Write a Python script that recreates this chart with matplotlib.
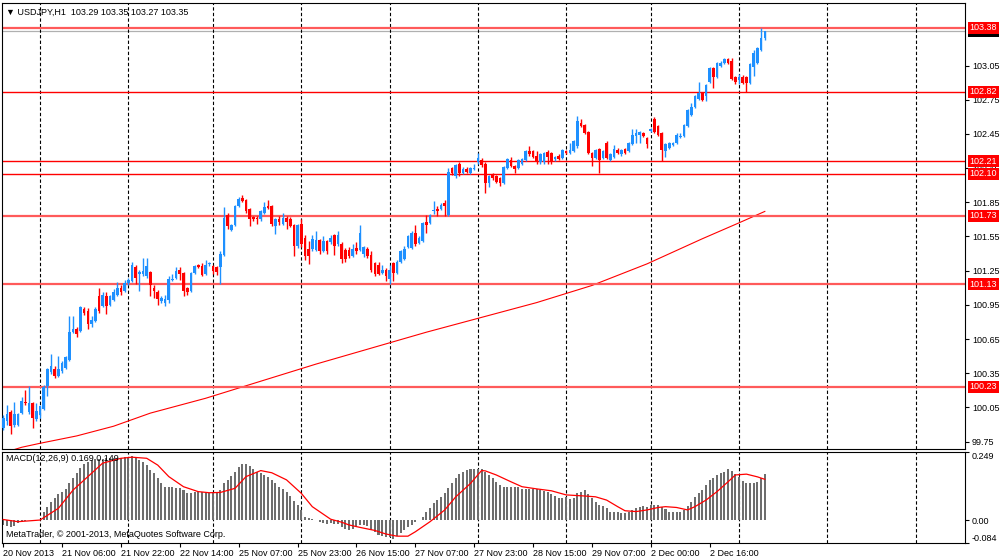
import numpy as np
import matplotlib
matplotlib.use("Agg")
import matplotlib.pyplot as plt

plt.rcParams['font.family'] = ['Liberation Sans', 'DejaVu Sans']

# USDJPY H1 bars, 20 Nov 2013 14:00 -> 3 Dec 2013 07:00
opens = [99.87, 99.93, 100.01, 99.90, 99.90, 100.00, 100.10, 100.01, 100.09, 99.95,
         99.98, 100.04, 100.24, 100.36, 100.39, 100.33, 100.37, 100.40, 100.47, 100.71,
         100.74, 100.72, 100.91, 100.90, 100.78, 100.81, 101.03, 100.94, 101.03, 100.95,
         100.99, 101.04, 101.10, 101.07, 101.14, 101.16, 101.28, 101.22, 101.22, 101.20,
         101.24, 101.10, 101.06, 100.98, 100.97, 100.99, 101.17, 101.19, 101.26, 101.23,
         101.10, 101.07, 101.23, 101.30, 101.29, 101.22, 101.31, 101.29, 101.28, 101.28,
         101.39, 101.74, 101.61, 101.65, 101.82, 101.89, 101.87, 101.79, 101.72, 101.71,
         101.70, 101.76, 101.82, 101.82, 101.64, 101.70, 101.66, 101.71, 101.70, 101.65,
         101.47, 101.66, 101.54, 101.44, 101.44, 101.43, 101.52, 101.42, 101.51, 101.50,
         101.56, 101.48, 101.48, 101.43, 101.43, 101.38, 101.45, 101.43, 101.40, 101.44,
         101.39, 101.32, 101.30, 101.23, 101.26, 101.18, 101.32, 101.23, 101.33, 101.35,
         101.46, 101.45, 101.58, 101.49, 101.51, 101.68, 101.67, 101.77, 101.79, 101.79,
         101.84, 101.74, 102.15, 102.08, 102.19, 102.11, 102.14, 102.11, 102.14, 102.20,
         102.22, 102.19, 102.02, 102.09, 102.08, 102.06, 102.02, 102.15, 102.22, 102.17,
         102.15, 102.19, 102.22, 102.30, 102.30, 102.26, 102.20, 102.20, 102.29, 102.28,
         102.23, 102.26, 102.24, 102.30, 102.28, 102.30, 102.34, 102.55, 102.53, 102.47,
         102.28, 102.24, 102.32, 102.24, 102.37, 102.22, 102.25, 102.31, 102.27, 102.32,
         102.30, 102.36, 102.43, 102.44, 102.46, 102.41, 102.48, 102.58, 102.52, 102.46,
         102.30, 102.33, 102.35, 102.37, 102.42, 102.43, 102.52, 102.62, 102.69, 102.76,
         102.81, 102.78, 102.91, 103.03, 102.95, 103.05, 103.07, 103.11, 103.09, 102.95,
         102.92, 102.95, 102.95, 102.90, 103.04, 103.07, 103.19, 103.29]
highs = [99.98, 100.07, 100.03, 100.10, 100.00, 100.14, 100.20, 100.24, 100.10, 100.09,
         100.07, 100.25, 100.40, 100.52, 100.41, 100.50, 100.46, 100.50, 100.85, 100.85,
         100.76, 100.94, 100.93, 100.92, 100.85, 100.93, 101.10, 101.06, 101.06, 101.04,
         101.09, 101.15, 101.12, 101.17, 101.19, 101.33, 101.30, 101.26, 101.36, 101.36,
         101.25, 101.12, 101.08, 101.03, 101.04, 101.20, 101.22, 101.28, 101.28, 101.24,
         101.11, 101.24, 101.30, 101.31, 101.32, 101.34, 101.33, 101.30, 101.29, 101.42,
         101.81, 101.76, 101.66, 101.83, 101.90, 101.91, 101.88, 101.80, 101.73, 101.73,
         101.78, 101.85, 101.87, 101.83, 101.71, 101.73, 101.76, 101.73, 101.72, 101.66,
         101.66, 101.70, 101.56, 101.51, 101.56, 101.60, 101.53, 101.55, 101.52, 101.56,
         101.57, 101.60, 101.50, 101.45, 101.46, 101.48, 101.50, 101.65, 101.47, 101.46,
         101.42, 101.33, 101.33, 101.30, 101.27, 101.30, 101.33, 101.34, 101.43, 101.47,
         101.56, 101.60, 101.65, 101.55, 101.68, 101.74, 101.75, 101.86, 101.82, 101.84,
         101.87, 102.15, 102.16, 102.19, 102.20, 102.16, 102.16, 102.16, 102.19, 102.28,
         102.24, 102.20, 102.09, 102.11, 102.09, 102.07, 102.17, 102.24, 102.25, 102.18,
         102.23, 102.24, 102.31, 102.34, 102.31, 102.30, 102.28, 102.29, 102.31, 102.29,
         102.26, 102.27, 102.32, 102.31, 102.37, 102.40, 102.61, 102.58, 102.54, 102.48,
         102.29, 102.32, 102.33, 102.31, 102.39, 102.28, 102.35, 102.33, 102.32, 102.33,
         102.38, 102.49, 102.49, 102.48, 102.47, 102.42, 102.50, 102.60, 102.53, 102.47,
         102.37, 102.38, 102.38, 102.46, 102.46, 102.54, 102.67, 102.72, 102.79, 102.91,
         102.82, 102.89, 103.04, 103.04, 103.08, 103.09, 103.12, 103.12, 103.12, 102.96,
         102.98, 102.97, 102.96, 103.07, 103.19, 103.21, 103.38, 103.35]
lows = [99.85, 99.90, 99.82, 99.88, 99.89, 99.99, 100.07, 99.99, 99.87, 99.93,
        99.96, 100.03, 100.15, 100.34, 100.31, 100.32, 100.35, 100.39, 100.46, 100.70,
        100.67, 100.71, 100.86, 100.74, 100.76, 100.80, 100.88, 100.93, 100.87, 100.94,
        100.98, 101.03, 101.04, 101.06, 101.12, 101.15, 101.13, 101.07, 101.20, 101.19,
        101.03, 101.01, 100.95, 100.97, 100.94, 100.97, 101.16, 101.18, 101.17, 101.03,
        101.04, 101.06, 101.22, 101.27, 101.20, 101.21, 101.29, 101.22, 101.21, 101.13,
        101.38, 101.62, 101.60, 101.64, 101.81, 101.85, 101.76, 101.64, 101.69, 101.66,
        101.69, 101.75, 101.79, 101.64, 101.57, 101.65, 101.65, 101.62, 101.63, 101.38,
        101.45, 101.46, 101.34, 101.31, 101.42, 101.42, 101.40, 101.41, 101.40, 101.48,
        101.39, 101.47, 101.32, 101.33, 101.36, 101.37, 101.40, 101.42, 101.37, 101.36,
        101.24, 101.20, 101.21, 101.22, 101.16, 101.13, 101.16, 101.22, 101.32, 101.34,
        101.45, 101.44, 101.47, 101.48, 101.50, 101.58, 101.66, 101.75, 101.73, 101.78,
        101.73, 101.73, 102.09, 102.06, 102.08, 102.10, 102.11, 102.10, 102.13, 102.19,
        102.16, 101.93, 101.98, 102.05, 102.02, 101.99, 102.01, 102.14, 102.16, 102.11,
        102.14, 102.18, 102.21, 102.26, 102.24, 102.19, 102.19, 102.19, 102.19, 102.19,
        102.21, 102.22, 102.23, 102.27, 102.27, 102.29, 102.33, 102.51, 102.45, 102.27,
        102.17, 102.23, 102.11, 102.23, 102.23, 102.21, 102.24, 102.27, 102.26, 102.27,
        102.29, 102.35, 102.37, 102.37, 102.42, 102.33, 102.47, 102.46, 102.43, 102.21,
        102.25, 102.32, 102.34, 102.36, 102.41, 102.42, 102.51, 102.61, 102.68, 102.75,
        102.74, 102.74, 102.90, 102.85, 102.94, 103.04, 103.06, 103.06, 102.92, 102.89,
        102.89, 102.89, 102.82, 102.89, 102.96, 103.06, 103.18, 103.27]
closes = [99.96, 99.99, 99.89, 99.99, 99.99, 100.11, 100.09, 100.09, 99.96, 100.02,
          100.06, 100.23, 100.39, 100.41, 100.33, 100.39, 100.44, 100.49, 100.71, 100.74,
          100.69, 100.93, 100.88, 100.78, 100.82, 100.91, 100.90, 101.04, 100.94, 101.03,
          101.06, 101.10, 101.06, 101.14, 101.17, 101.30, 101.19, 101.24, 101.25, 101.29,
          101.12, 101.07, 101.00, 101.01, 101.00, 101.18, 101.18, 101.25, 101.22, 101.07,
          101.06, 101.23, 101.29, 101.28, 101.21, 101.30, 101.32, 101.25, 101.24, 101.40,
          101.71, 101.64, 101.65, 101.82, 101.88, 101.86, 101.77, 101.70, 101.70, 101.70,
          101.77, 101.81, 101.80, 101.66, 101.70, 101.68, 101.71, 101.68, 101.64, 101.47,
          101.65, 101.48, 101.38, 101.38, 101.53, 101.52, 101.42, 101.51, 101.42, 101.54,
          101.47, 101.56, 101.35, 101.35, 101.38, 101.44, 101.42, 101.58, 101.46, 101.38,
          101.26, 101.22, 101.22, 101.26, 101.20, 101.26, 101.23, 101.33, 101.42, 101.44,
          101.55, 101.58, 101.48, 101.54, 101.67, 101.65, 101.74, 101.78, 101.77, 101.83,
          101.82, 102.12, 102.11, 102.18, 102.11, 102.14, 102.12, 102.15, 102.15, 102.24,
          102.18, 102.02, 102.08, 102.06, 102.03, 102.02, 102.16, 102.23, 102.17, 102.14,
          102.22, 102.23, 102.30, 102.27, 102.25, 102.20, 102.27, 102.28, 102.25, 102.21,
          102.25, 102.23, 102.31, 102.28, 102.31, 102.39, 102.56, 102.52, 102.46, 102.28,
          102.24, 102.31, 102.22, 102.30, 102.24, 102.27, 102.32, 102.28, 102.31, 102.28,
          102.37, 102.44, 102.46, 102.47, 102.43, 102.36, 102.49, 102.47, 102.44, 102.31,
          102.36, 102.37, 102.37, 102.44, 102.43, 102.53, 102.66, 102.69, 102.78, 102.81,
          102.75, 102.88, 103.03, 102.95, 103.07, 103.07, 103.11, 103.07, 102.93, 102.91,
          102.95, 102.90, 102.90, 103.06, 103.16, 103.20, 103.29, 103.35]

# moving average (read at a few bars)
ma_idx = [0, 5, 10, 20, 30, 40, 55, 70, 85, 100, 115, 130, 145, 160, 175, 190, 200, 207]
ma_val = [99.65, 99.70, 99.735, 99.80, 99.885, 100.00, 100.13, 100.28, 100.43, 100.57,
          100.71, 100.84, 100.97, 101.12, 101.31, 101.53, 101.67, 101.77]

# MACD(12,26,9) main values, one per bar
macd = [-0.018, -0.022, -0.024, -0.022, -0.012, -0.006, -0.002, -0.001, -0.002, -0.001, 0.000,
        0.031, 0.049, 0.067, 0.079, 0.095, 0.104, 0.112, 0.134, 0.153, 0.171, 0.189, 0.205, 0.214, 0.220,
        0.222, 0.223, 0.225, 0.226, 0.226, 0.227, 0.228, 0.228, 0.230, 0.230, 0.234,
        0.226, 0.220, 0.214, 0.201, 0.183, 0.171, 0.153, 0.134, 0.120, 0.120, 0.120, 0.116, 0.116,
        0.110, 0.098, 0.100, 0.104, 0.104, 0.104, 0.100, 0.098, 0.098, 0.098,
        0.110, 0.134, 0.147, 0.161, 0.177, 0.195, 0.205, 0.205, 0.198, 0.186, 0.177, 0.171, 0.165, 0.156,
        0.147, 0.137, 0.122, 0.112, 0.104, 0.088, 0.071, 0.055, 0.037, 0.012, 0.006, 0.002, 0.000,
        -0.006, -0.012, -0.015,
        -0.010, -0.013, -0.015, -0.027, -0.034, -0.037, -0.031, -0.027, -0.018, -0.018, -0.022, -0.037,
        -0.043, -0.055, -0.059, -0.061, -0.063, -0.071, -0.059, -0.049, -0.037, -0.027, -0.018, -0.006,
        0.000, 0.012, 0.031, 0.043, 0.061, 0.073, 0.085, 0.100, 0.116, 0.134,
        0.153, 0.168, 0.177, 0.183, 0.187, 0.187, 0.187, 0.187, 0.177, 0.165,
        0.153, 0.140, 0.128, 0.122, 0.122, 0.122, 0.122, 0.120, 0.115, 0.114,
        0.115, 0.115, 0.112, 0.110, 0.107, 0.104, 0.095, 0.087, 0.081,
        0.082, 0.085, 0.076, 0.079, 0.098, 0.104, 0.110, 0.095, 0.079, 0.067,
        0.055, 0.051, 0.043, 0.031, 0.028, 0.028, 0.024, 0.027, 0.031, 0.037,
        0.043, 0.049, 0.051, 0.049, 0.055, 0.055, 0.055, 0.046, 0.039, 0.031,
        0.028, 0.029, 0.031, 0.037, 0.051, 0.067, 0.085, 0.100, 0.110, 0.128,
        0.147, 0.153, 0.165, 0.171, 0.177, 0.186, 0.181, 0.168, 0.159, 0.144,
        0.134, 0.137, 0.137, 0.140, 0.153, 0.169]

# signal line (read at a few bars)
sig_idx = [0, 4, 10, 15, 19, 24, 27, 32, 35, 39, 42, 45, 49, 53, 56, 59, 63, 66, 70, 73,
           77, 81, 84, 89, 92, 94, 97, 101, 104, 107, 110, 112, 116, 120, 123, 127, 130, 131,
           134, 138, 141, 145, 149, 153, 158, 161, 164, 167, 169, 172, 175, 178, 180, 183,
           186, 188, 191, 194, 197, 199, 202, 205, 207]
sig_val = [0.002, -0.006, 0.000, 0.043, 0.110, 0.171, 0.208, 0.226, 0.230, 0.226, 0.201,
           0.159, 0.122, 0.104, 0.100, 0.101, 0.116, 0.159, 0.181, 0.173, 0.147, 0.098, 0.049,
           0.003, -0.008, -0.018, -0.027, -0.038, -0.051, -0.059, -0.059, -0.043, -0.006,
           0.037, 0.085, 0.134, 0.181, 0.180, 0.165, 0.140, 0.122, 0.114, 0.107, 0.092,
           0.088, 0.085, 0.073, 0.049, 0.034, 0.031, 0.037, 0.046, 0.049, 0.046, 0.037,
           0.049, 0.073, 0.104, 0.140, 0.165, 0.168, 0.158, 0.149]

# horizontal levels, True = thick pale line
levels = [103.38, 102.82, 102.21, 102.10, 101.73, 101.13, 100.23]
level_thick = [True, False, False, False, True, True, True]
bid = 103.35

price_ticks = [99.75, 100.05, 100.35, 100.65, 100.95, 101.25, 101.55, 101.85,
               102.15, 102.45, 102.75, 103.05]
day_starts = [10, 34, 57, 81, 105, 129, 153, 176, 200, 224, 248]
time_pos = [0, 16, 32, 48, 64, 80, 96, 112, 128, 144, 160, 176, 192]
time_lbl = ['20 Nov 2013', '21 Nov 06:00', '21 Nov 22:00', '22 Nov 14:00', '25 Nov 07:00',
            '25 Nov 23:00', '26 Nov 15:00', '27 Nov 07:00', '27 Nov 23:00', '28 Nov 15:00',
            '29 Nov 07:00', '2 Dec 00:00', '2 Dec 16:00']

W, H = 1000, 560
def box(l, t, r, b):
    return [l / W, 1 - b / H, (r - l) / W, (b - t) / H]

fig = plt.figure(figsize=(10, 5.6), dpi=100)
ax = fig.add_axes(box(2, 3, 965, 449))
ax2 = fig.add_axes(box(2, 452, 965, 543))
fs = 6.5

bars = np.arange(len(closes))
o = np.array(opens); c = np.array(closes)
cols = np.where(c >= o, '#1E90FF', '#FF0000')
ax.vlines(bars, lows, highs, colors=cols, lw=1.0, zorder=3)
ax.bar(bars, np.maximum(np.abs(c - o), 0.008), bottom=np.minimum(o, c), width=0.72,
       color=cols, zorder=3)

ax.plot(ma_idx, ma_val, color='red', lw=0.8, zorder=2)

ax.axhline(bid, color='#B0B0B0', lw=0.9, zorder=1)
for lv, thick in zip(levels, level_thick):
    if thick:
        ax.axhline(lv, color='#FF5A5A', lw=1.6, zorder=2)
    else:
        ax.axhline(lv, color='#FF0000', lw=1.0, zorder=2)

for a in (ax, ax2):
    for d in day_starts:
        a.axvline(d, color='black', lw=0.8, ls=(0, (3, 2)), zorder=1)
    a.set_xlim(-0.33, 261.4)
    for s in a.spines.values():
        s.set_color('black')
        s.set_linewidth(0.8)

ax.set_ylim(99.685, 103.599)
ax.yaxis.tick_right()
ax.set_yticks(price_ticks)
ax.set_yticklabels([f'{v:.2f}' for v in price_ticks])
ax.tick_params(axis='y', length=3, width=0.8, pad=2, labelsize=fs)
ax.tick_params(axis='x', bottom=False, labelbottom=False)

# price labels on the right scale (bid label sits under the 103.38 label)
tr = ax.get_yaxis_transform()
ax.text(1.005, bid, f'{bid:.2f}', transform=tr, color='white', fontsize=fs, va='center',
        ha='left', clip_on=False, zorder=6, bbox=dict(fc='black', ec='none', pad=1.2))
for lv in levels:
    ax.text(1.005, lv, f'{lv:.2f}', transform=tr, color='white', fontsize=fs, va='center',
            ha='left', clip_on=False, zorder=7, bbox=dict(fc='#FF0000', ec='none', pad=1.2))

ax.text(0.004, 0.978, '\u25bc USDJPY,H1  %.2f %.2f %.2f %.2f' % (opens[-1], highs[-1], lows[-1], closes[-1]),
        transform=ax.transAxes, fontsize=fs, va='center', ha='left', zorder=8)

# MACD panel
ax2.bar(np.arange(len(macd)), macd, width=0.55, color='#6E6E6E', zorder=2)
ax2.plot(sig_idx, sig_val, color='red', lw=0.9, zorder=3)
ax2.set_ylim(-0.084, 0.249)
ax2.yaxis.tick_right()
ax2.set_yticks([0.249, 0.0, -0.084])
ax2.set_yticklabels(['0.249', '0.00', '-0.084'])
ax2.tick_params(axis='y', length=3, width=0.8, pad=2, labelsize=fs)
ylabs = ax2.get_yticklabels()
ylabs[0].set_verticalalignment('top')
ylabs[2].set_verticalalignment('bottom')
ax2.set_xticks(time_pos)
ax2.set_xticklabels(time_lbl, ha='left')
ax2.tick_params(axis='x', length=3, width=0.8, pad=1, labelsize=fs)

ax2.text(0.004, 0.93, 'MACD(12,26,9) %.3f %.3f' % (macd[-1], sig_val[-1]),
         transform=ax2.transAxes, fontsize=fs, va='center', ha='left', zorder=5)
ax2.text(0.004, 0.09, 'MetaTrader, \u00a9 2001-2013, MetaQuotes Software Corp.',
         transform=ax2.transAxes, fontsize=fs, va='center', ha='left', zorder=5)

fig.savefig('out.png', dpi=100, facecolor='white')
